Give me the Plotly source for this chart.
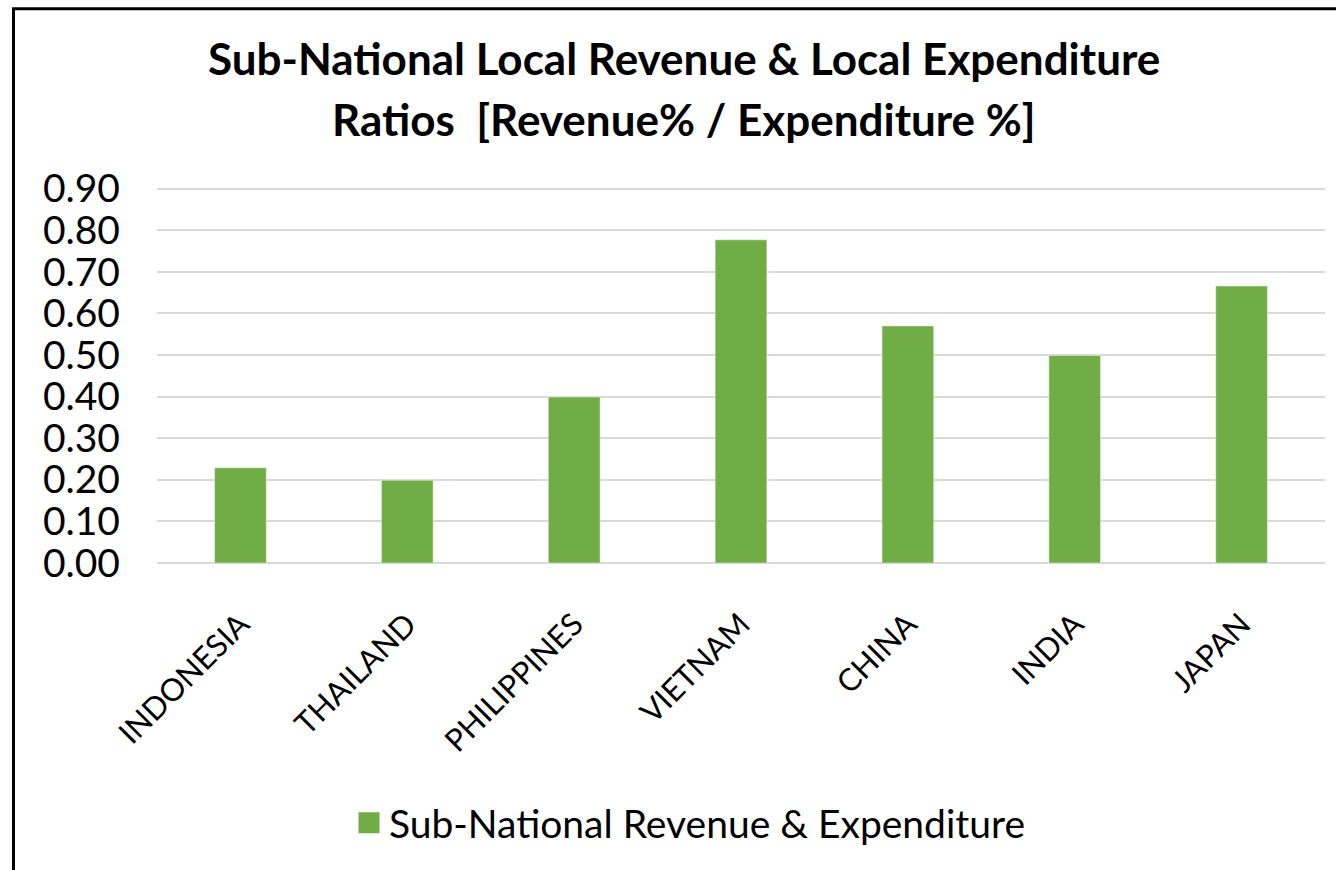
import plotly.graph_objects as go

# data
countries = ["INDONESIA", "THAILAND", "PHILIPPINES", "VIETNAM", "CHINA", "INDIA", "JAPAN"]
ratios = [0.229, 0.199, 0.399, 0.777, 0.570, 0.499, 0.666]
y_ticks = [0.0, 0.1, 0.2, 0.3, 0.4, 0.5, 0.6, 0.7, 0.8, 0.9]
series_name = "Sub-National Revenue & Expenditure"
title_lines = ["Sub-National Local Revenue & Local Expenditure",
               "Ratios  [Revenue% / Expenditure %]"]

GREEN = "#70AD47"
FONT = "Lato"

fig = go.Figure()

fig.add_trace(go.Bar(
    x=countries,
    y=ratios,
    marker=dict(color=GREEN, line=dict(color="rgba(255,255,255,0.45)", width=1)),
    name=series_name,
    showlegend=False,
))

# legend-only trace so the swatch is a bigger square like the original
# (legend caps marker size at 16, the outline makes it a bit larger)
fig.add_trace(go.Scatter(
    x=[None], y=[None],
    mode="markers",
    marker=dict(symbol="square", size=24, color=GREEN,
                line=dict(color=GREEN, width=5)),
    name=series_name,
    showlegend=True,
))

W, H = 1336, 870
# a little headroom above 0.90 so plotly keeps that gridline
L, R, T, B = 157, 11, 187, 307
pw, ph = W - L - R, H - T - B
y_top = ph / 415.9  # 415.9 px per 1.0, 0.90 lands at y=189


def px_x(px):
    return (px - L) / pw


def px_y(py):
    return (H - B - py) / ph


# two-line title, placed with annotations to get Excel-like line spacing
for line, yc in zip(title_lines, [58, 119]):
    fig.add_annotation(
        text=f"<b>{line}</b>", x=px_x(683.5), y=px_y(yc),
        xref="paper", yref="paper", xanchor="center", yanchor="middle",
        showarrow=False, font=dict(family=FONT, size=44, color="black"),
    )

# chart-area frame (cropped on right/bottom in the reference)
fig.add_shape(type="rect", xref="paper", yref="paper",
              x0=px_x(13.5), x1=px_x(1450), y0=px_y(8.7), y1=px_y(1000),
              line=dict(color="black", width=3), fillcolor="rgba(0,0,0,0)")

fig.update_layout(
    width=W, height=H,
    margin=dict(l=L, r=R, t=T, b=B),
    paper_bgcolor="white",
    plot_bgcolor="white",
    font=dict(family=FONT, color="black"),
    bargap=0.69,
    legend=dict(orientation="h", x=px_x(690), xanchor="center",
                y=px_y(823), yanchor="middle",
                font=dict(family=FONT, size=39, color="black")),
)

fig.update_yaxes(
    range=[0, y_top],
    tickvals=y_ticks,
    tickformat=".2f",
    showgrid=True, gridcolor="#D9D9D9", gridwidth=1.5,
    zeroline=True, zerolinecolor="#D9D9D9", zerolinewidth=1.5,
    showline=False, ticks="",
    tickfont=dict(family=FONT, size=39, color="black"),
    ticklabelstandoff=36,
)

fig.update_xaxes(
    tickangle=-45,
    showline=False, ticks="",
    tickfont=dict(family=FONT, size=31, color="black"),
    ticklabelstandoff=36,
)

fig.write_html("out.html",
               config={"displayModeBar": False},
               post_script="document.body.style.margin='0';document.body.style.overflow='hidden';")
